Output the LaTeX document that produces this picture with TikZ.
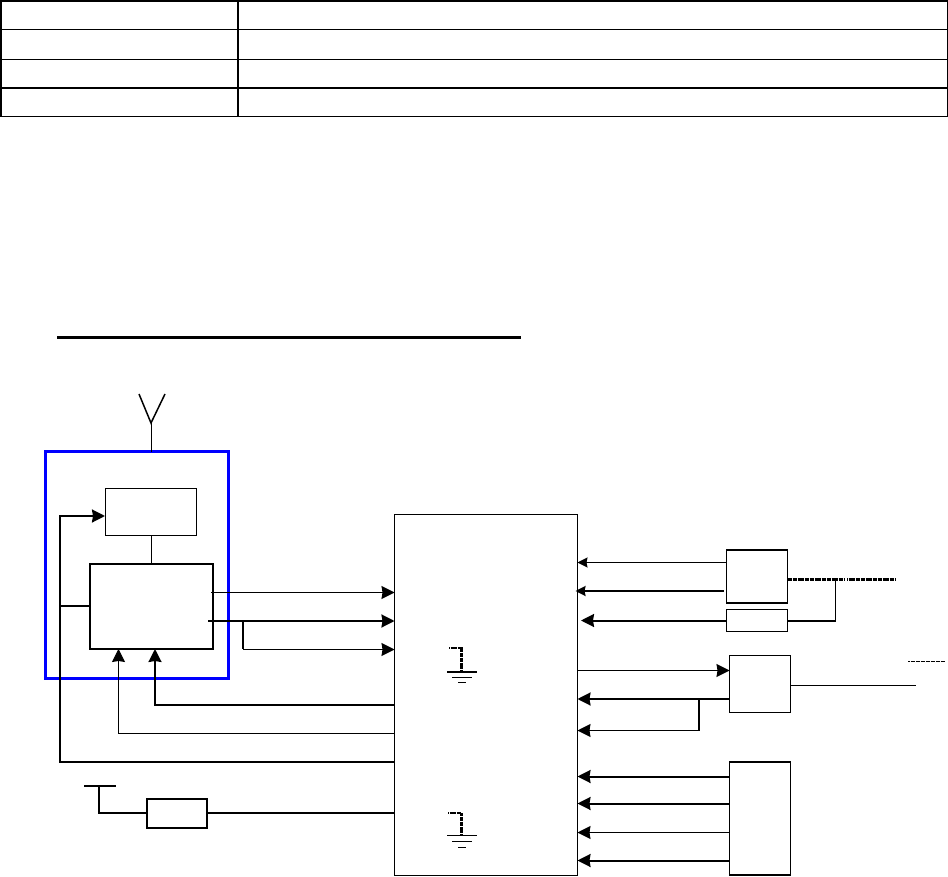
\documentclass[tikz,border=0pt]{standalone}
\usepackage{tikz}
\usetikzlibrary{arrows.meta}

\tikzset{
	block/.style={draw, line width=1.5pt, inner sep=0pt, outer sep=0pt},
	thinwire/.style={line width=1pt},
	widewire/.style={line width=2pt},
	bighead/.style={-{Stealth[length=13pt, width=13pt, inset=1pt]}},
	smallhead/.style={-{Stealth[length=10pt, width=10pt, inset=1pt]}},
	thinarrow/.style={thinwire, bighead},
	widearrow/.style={widewire, bighead},
	smallarrow/.style={thinwire, smallhead},
	roughwire/.style={line width=2.4pt, dash pattern=on 1.4pt off 0.3pt},
	tablerule/.style={line width=1pt},
	tableheavy/.style={line width=2pt}
}

\begin{document}
\begin{tikzpicture}[x=1pt, y=-1pt]
	\useasboundingbox (0,0) rectangle (948,877);

	%table
	\draw[tableheavy] (1,1) -- (948,1);
	\draw[tablerule] (0,29.5) -- (948,29.5);
	\draw[tablerule] (0,59.5) -- (948,59.5);
	\draw[tableheavy] (0,88) -- (948,88);
	\draw[tablerule] (0,116.5) -- (948,116.5);
	\draw[tableheavy] (1,0) -- (1,117);
	\draw[tableheavy] (238,0) -- (238,117);
	\draw[tablerule] (947.5,0) -- (947.5,117);

	%heading rule
	\draw[line width=3pt] (57,338) -- (521,338);

	%nodes
	\node (rf)[block, line width=1pt, minimum width=91pt, minimum height=47pt] at (150.5,511.5) {};
	\node (radio)[block, minimum width=123pt, minimum height=85pt, below of=rf, node distance=95pt, xshift=1pt] {};
	\node (module)[draw=blue, line width=3pt, inner sep=0pt, outer sep=0pt, minimum width=183pt, minimum height=226.5pt] at (137,564.75) {};
	\node (main)[block, line width=1pt, minimum width=183pt, minimum height=361pt] at (486,694.5) {};

	\node (sensor)[block, minimum width=61pt, minimum height=53pt] at (757,576.5) {};
	\node (filter)[block, minimum width=61pt, minimum height=22pt, below of=sensor, node distance=44pt] {};
	\node (driver)[block, line width=1pt, minimum width=61pt, minimum height=56.5pt] at (760,684) {};
	\node (header)[block, minimum width=61pt, minimum height=113pt, below of=driver, node distance=134.5pt] {};
	\node (fuse)[block, minimum width=60pt, minimum height=29pt] at (177,813.5) {};

	%free ends
	\coordinate (aerialtip) at (151,423);
	\coordinate (aerialL) at (139,394);
	\coordinate (aerialR) at (165,394);
	\coordinate (busleft) at (60,606);
	\coordinate (branchL) at (243,621);
	\coordinate (radioA) at (155,705);
	\coordinate (radioB) at (118.5,733);
	\coordinate (supply) at (99,786);
	\coordinate (rough) at (835.5,579.5);
	\coordinate (branchR) at (699,699);

	%aerial
	\draw[line width=1.5pt] (aerialL) -- (aerialtip) -- (aerialR);
	\draw[thinwire] (aerialtip) -- (aerialtip |- module.north);

	%links on the left
	\draw[thinwire] (rf.south -| radio.north) -- (radio.north);
	\draw[widewire] (radio.west |- busleft) -- (busleft);
	\draw[widewire, bighead] (main.west |- 0,762) -- (60,762) -- (60,516) -- (rf.west |- 0,516);
	\draw[thinarrow] (211,592.5) -- (main.west |- 0,592.5);
	\draw[widearrow] (208,621) -- (main.west |- 0,621);
	\draw[thinarrow] (branchL) -- (243,649.5) -- (main.west |- 0,649.5);
	\draw[widewire] (branchL) -- (243,649);
	\draw[widearrow] (main.west |- radioA) -- (radioA) -- (radioA |- radio.south);
	\draw[thinarrow] (main.west |- radioB) -- (radioB) -- (radioB |- radio.south);

	%supply
	\draw[widewire] (84,786) -- (116,786);
	\draw[widewire] (supply) -- (99,813) -- (fuse.west |- 0,813);
	\draw[widewire] (fuse.east |- 0,813) -- (main.west |- 0,813);

	%links on the right
	\draw[smallarrow] (sensor.west |- 0,562.5) -- (main.east |- 0,562.5);
	\draw[widewire, smallhead] (724,591) -- (575.5,591);
	\draw[widearrow] (filter.west) -- (581,620.5);
	\draw[roughwire] (sensor.east |- rough) -- (845,579.5);
	\draw[roughwire] (847,579.5) -- (896,579.5);
	\draw[thinwire] (rough) -- (835.5,620.5);
	\draw[widewire] (835.5,620.5) -- (filter.east);

	\draw[thinarrow] (main.east |- 0,670.5) -- (driver.west |- 0,670.5);
	\draw[widearrow] (driver.west |- branchR) -- (main.east |- branchR);
	\draw[thinarrow] (branchR) -- (699,730.5) -- (main.east |- 0,730.5);
	\draw[widewire] (branchR) -- (699,730);
	\draw[thinwire] (driver.east |- 0,685.5) -- (916,685.5);
	\draw[line width=1pt, dash pattern=on 2pt off 0.5pt] (908,661.5) -- (945,661.5);

	\draw[widearrow] (header.west |- 0,776.5) -- (main.east |- 0,776.5);
	\draw[widearrow] (header.west |- 0,803.5) -- (main.east |- 0,803.5);
	\draw[thinarrow] (header.west |- 0,832.5) -- (main.east |- 0,832.5);
	\draw[widearrow] (header.west |- 0,860.5) -- (main.east |- 0,860.5);

	%grounds
	\draw[roughwire] (449,648) -- (461.5,648) -- (461.5,672);
	\draw[widewire] (447,672) -- (477,672);
	\draw[thinwire] (452,677.5) -- (472,677.5);
	\draw[thinwire] (458,682.5) -- (466,682.5);
	\draw[roughwire] (448,813) -- (461.5,813) -- (461.5,835);
	\draw[thinwire] (447,835.5) -- (477,835.5);
	\draw[thinwire] (452,841.5) -- (472,841.5);
	\draw[thinwire] (458,847.5) -- (466,847.5);
\end{tikzpicture}
\end{document}
